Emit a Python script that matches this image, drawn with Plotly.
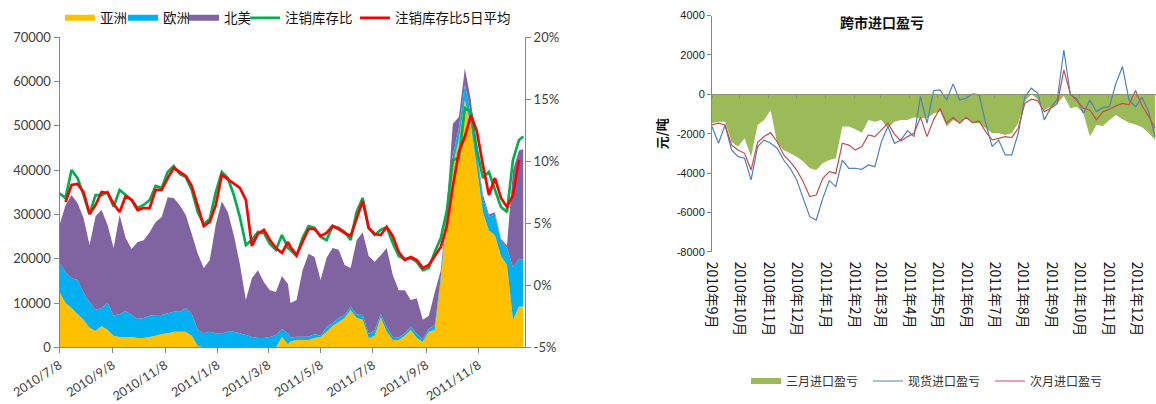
import pandas as pd
import plotly.graph_objects as go

# ---------------- Left chart data (注销库存) ----------------
seg_a = pd.date_range("2010-07-08", periods=39, freq="7D")
seg_b = pd.date_range("2011-04-03", periods=39, freq="7D")
stock_dates = [d.strftime("%Y-%m-%d") for d in list(seg_a) + list(seg_b)] + ["2011-12-30"]

asia = [12500, 10000, 8900, 7500, 6200, 4400, 3700, 4800, 3900, 2600,
        2300, 2300, 2300, 2100, 2100, 2300, 2600, 3000, 3200, 3500,
        3500, 3500, 2600, 300, 0, 0, 0, 0, 0, 0,
        0, 0, 0, 0, 0, 0, 0, 2300, 700, 1300,
        1650, 1650, 1650, 2100, 2300, 3500, 4800, 5700, 6600, 8400,
        6600, 6200, 2100, 2600, 6800, 3500, 1650, 1650, 2600, 3900,
        2100, 1200, 3500, 3900, 15200, 29900, 41100, 47000, 55800, 50000,
        40500, 30500, 26400, 25300, 20600, 18600, 6200, 9200, 9200]

europe = [6500, 7000, 6700, 7700, 6100, 5800, 4700, 4100, 6100, 4500,
          5200, 5900, 5000, 4300, 4500, 4800, 4700, 4300, 4500, 4500,
          4500, 5400, 4900, 3600, 3200, 3500, 3200, 3200, 3500, 3500,
          3200, 2800, 2300, 2100, 2100, 2300, 2800, 1800, 2500, 900,
          750, 750, 750, 900, 300, 1000, 700, 900, 700, 800,
          800, 1100, 900, 1200, 700, 1000, 650, 550, 600, 800,
          900, 600, 700, 1100, 800, 1100, 2400, 2500, 3500, 2800,
          2500, 3100, 3100, 4700, 3400, 3900, 11800, 10800, 10500]

north_america = [8600, 15100, 18800, 17400, 16900, 12900, 21200, 22100, 17600, 15300,
                 22400, 16500, 14900, 17400, 17600, 18900, 21000, 22100, 26200, 25700,
                 24100, 21000, 18100, 17200, 14700, 16200, 24600, 29800, 27000, 21800,
                 15600, 7900, 13300, 15300, 12600, 10600, 9700, 12000, 11100, 7800,
                 8300, 15000, 18700, 17400, 12600, 15700, 16900, 15400, 11300, 8700,
                 16800, 18700, 17600, 15500, 13300, 17900, 14000, 10700, 9700, 6000,
                 8100, 4400, 2900, 7500, 1400, 1000, 7000, 2500, 3700, 3000,
                 1000, 900, 500, 500, 500, 500, 22000, 24500, 25000]

cancel_ratio = [7.42, 7.04, 9.30, 8.65, 7.28, 5.75, 7.28, 7.28, 7.52, 6.34,
                7.69, 7.28, 6.88, 6.23, 6.48, 6.88, 8.01, 7.85, 9.14, 9.62,
                8.98, 8.73, 7.69, 5.91, 4.94, 5.35, 7.52, 9.14, 8.65, 7.28,
                5.51, 3.25, 3.65, 4.30, 4.22, 3.33, 2.85, 4.06, 3.01, 2.85,
                2.36, 3.81, 4.78, 4.62, 3.90, 3.65, 4.78, 4.62, 4.30, 3.65,
                5.91, 7.04, 4.62, 4.06, 4.46, 4.70, 3.41, 2.36, 2.12, 2.20,
                1.88, 1.23, 1.40, 2.69, 3.81, 6.00, 10.11, 10.27, 14.30, 13.98,
                10.91, 8.65, 9.14, 7.69, 6.32, 5.91, 10.11, 11.72, 12.00]

cancel_ratio_ma5 = [None, 6.72, 8.09, 8.17, 7.52, 5.75, 6.48, 7.52, 7.44, 6.56,
                    5.91, 7.20, 6.88, 6.07, 6.23, 6.23, 7.69, 7.69, 8.65, 9.46,
                    9.14, 8.82, 8.01, 6.48, 4.78, 5.11, 6.48, 8.90, 8.57, 8.25,
                    7.85, 6.88, 3.17, 4.14, 4.46, 3.65, 3.01, 2.61, 3.49, 3.09,
                    2.44, 3.49, 4.54, 4.54, 3.98, 4.22, 4.78, 4.54, 4.22, 3.98,
                    5.43, 6.80, 4.62, 4.14, 4.06, 4.70, 3.98, 2.69, 2.04, 2.28,
                    2.04, 1.40, 1.64, 2.36, 3.09, 4.78, 8.00, 10.75, 12.00, 13.73,
                    12.40, 9.70, 7.28, 8.65, 7.04, 6.32, 7.28, 10.11, None]

left_x_ticks = ["2010-07-08", "2010-09-08", "2010-11-08", "2011-01-08", "2011-03-08",
                "2011-05-08", "2011-07-08", "2011-09-08", "2011-11-08"]
left_x_labels = ["2010/7/8", "2010/9/8", "2010/11/8", "2011/1/8", "2011/3/8",
                 "2011/5/8", "2011/7/8", "2011/9/8", "2011/11/8"]
left_y_ticks = [0, 10000, 20000, 30000, 40000, 50000, 60000, 70000]
right_pct_ticks = [-5, 0, 5, 10, 15, 20]
right_pct_labels = ["-5%", "0%", "5%", "10%", "15%", "20%"]

# ---------------- Right chart data (跨市进口盈亏) ----------------
pl_dates = [d.strftime("%Y-%m-%d") for d in pd.date_range("2010-09-01", periods=69, freq="7D")]

three_month = [-1470, -1390, -1390, -2410, -2660, -2240, -3170, -1560, -1300, -800,
               -2490, -2830, -3000, -3170, -3420, -3760, -3850, -3510, -3340, -3250,
               -1640, -1640, -1780, -1950, -1300, -1390, -1300, -1730, -1390, -1300,
               -1300, -1170, -1220, -1220, -970, -880, -1640, -1300, -1470, -1220,
               -1470, -1470, -1730, -1980, -1980, -2070, -1980, -1470, -370, 0,
               -250, -800, -630, -460, -90, -710, -630, -970, -2150, -1560,
               -1610, -1300, -1050, -1270, -1440, -1530, -1680, -1950, -2320]

spot = [-1640, -2490, -1560, -2830, -3170, -3250, -4350, -2660, -2320, -2490,
        -2740, -3340, -3760, -4350, -5290, -6220, -6390, -5290, -4390, -4690,
        -3340, -3760, -3760, -3810, -3590, -3680, -2410, -1640, -2490, -2320,
        -1850, -2150, -100, -1470, 190, 220, -290, 530, -290, -200,
        20, -30, -1470, -2660, -2320, -3080, -3080, -1980, -150, 310,
        50, -1300, -680, -250, 2250, -30, -220, -970, -290, -880,
        -680, -630, 560, 1410, -290, -630, -150, -880, -2150]

next_month = [-1560, -1470, -1560, -2580, -2830, -3000, -3850, -2440, -2150, -1950,
              -2410, -3080, -3420, -3850, -4440, -5200, -5120, -4270, -3930, -4020,
              -2490, -2580, -2830, -2660, -2070, -2150, -1810, -1470, -2020, -2370,
              -2150, -1980, -1170, -2150, -1300, -710, -1470, -1170, -1470, -1170,
              -1440, -1360, -1900, -2320, -2240, -2150, -2200, -1730, -460, -250,
              -320, -880, -710, -470, 1240, 20, -320, -710, -800, -1300,
              -880, -760, -590, -460, -540, 190, -580, -1100, -1730]

pl_month_ticks = ["2010-09-01", "2010-10-01", "2010-11-01", "2010-12-01", "2011-01-01",
                  "2011-02-01", "2011-03-01", "2011-04-01", "2011-05-01", "2011-06-01",
                  "2011-07-01", "2011-08-01", "2011-09-01", "2011-10-01", "2011-11-01",
                  "2011-12-01"]
pl_month_labels = ["2010年9月", "2010年10月", "2010年11月", "2010年12月", "2011年1月",
                   "2011年2月", "2011年3月", "2011年4月", "2011年5月", "2011年6月",
                   "2011年7月", "2011年8月", "2011年9月", "2011年10月", "2011年11月",
                   "2011年12月"]
pl_y_ticks = [4000, 2000, 0, -2000, -4000, -6000, -8000]
pl_y_labels = ["4000", "2000", "0", "-2000", "-4000", "-6000", "-8000"]

W, H = 1156, 404
LF = "Lato, 'Noto Sans CJK SC', sans-serif"
RF = "'Liberation Sans', 'Noto Sans CJK SC', sans-serif"
CJK = "'Noto Sans CJK SC', sans-serif"


def px_x(p):
    return p / W


def px_y(p):
    return 1 - p / H


fig = go.Figure()

# left stacked areas (each legend entry gets its own legend box for exact placement)
for name, vals, col, lg in [("亚洲", asia, "#FFC000", "legend"),
                            ("欧洲", europe, "#00B0F0", "legend3"),
                            ("北美", north_america, "#8064A2", "legend4")]:
    fig.add_trace(go.Scatter(x=stock_dates, y=vals, name=name, mode="none",
                             stackgroup="stock", fillcolor=col,
                             xaxis="x", yaxis="y", legend=lg))
fig.add_trace(go.Scatter(x=stock_dates, y=cancel_ratio, name="注销库存比", mode="lines",
                         line=dict(color="#00B050", width=2.7),
                         xaxis="x", yaxis="y2", legend="legend5"))
fig.add_trace(go.Scatter(x=stock_dates, y=cancel_ratio_ma5, name="注销库存比5日平均",
                         mode="lines", line=dict(color="#FF0000", width=2.7),
                         xaxis="x", yaxis="y2", legend="legend6"))

# right chart
fig.add_trace(go.Scatter(x=pl_dates, y=three_month, name="三月进口盈亏", mode="none",
                         fill="tozeroy", fillcolor="#9BBB59",
                         xaxis="x2", yaxis="y3", legend="legend2"))
fig.add_trace(go.Scatter(x=pl_dates, y=spot, name="现货进口盈亏", mode="lines",
                         line=dict(color="#4F81BD", width=1.2),
                         xaxis="x3", yaxis="y3", legend="legend7"))
fig.add_trace(go.Scatter(x=pl_dates, y=next_month, name="次月进口盈亏", mode="lines",
                         line=dict(color="#C0504D", width=1.2),
                         xaxis="x3", yaxis="y3", legend="legend8"))


def leg(xpx, ypx, size, color):
    return dict(orientation="h", x=px_x(xpx), y=px_y(ypx), xanchor="left",
                yanchor="middle", bgcolor="rgba(0,0,0,0)", traceorder="normal",
                font=dict(family=CJK, size=size, color=color), itemwidth=30)


axis_gray = "#868686"
fig.update_layout(
    width=W, height=H, template="none",
    margin=dict(l=0, r=0, t=0, b=0),
    paper_bgcolor="white", plot_bgcolor="rgba(0,0,0,0)",
    font=dict(family=LF, size=12, color="#404040"),
    showlegend=True,
    xaxis=dict(domain=[px_x(59.5), px_x(525)], anchor="y", type="date",
               range=["2010-07-08", "2012-01-01"], tickmode="array",
               tickvals=left_x_ticks, ticktext=left_x_labels, tickangle=-33,
               showline=True, linecolor=axis_gray, linewidth=1, ticks="outside",
               ticklen=5, tickcolor=axis_gray, showgrid=False, zeroline=False,
               tickfont=dict(family=LF, size=12.5, color="#404040")),
    yaxis=dict(domain=[px_y(347.3), px_y(37.3)], anchor="x", range=[0, 70000],
               tickmode="array", tickvals=left_y_ticks,
               ticktext=[str(v) for v in left_y_ticks],
               showline=True, linecolor=axis_gray, ticks="outside", ticklen=5,
               tickcolor=axis_gray, showgrid=False, zeroline=False,
               tickfont=dict(family=LF, size=13, color="#404040")),
    yaxis2=dict(overlaying="y", anchor="x", side="right", range=[-5, 20],
                tickmode="array", tickvals=right_pct_ticks, ticktext=right_pct_labels,
                showline=True, linecolor=axis_gray, ticks="outside", ticklen=5,
                tickcolor=axis_gray, showgrid=False, zeroline=False,
                tickfont=dict(family=LF, size=13, color="#404040")),
    xaxis2=dict(domain=[px_x(712), 1.0], anchor="y3", type="date",
                range=["2010-09-01", "2011-12-22"], tickmode="array",
                tickvals=pl_month_ticks, ticktext=pl_month_labels, tickangle=90,
                showline=False, ticks="", showgrid=False, zeroline=False,
                ticklabelstandoff=9,
                tickfont=dict(family=CJK, size=14, color="#111111")),
    xaxis3=dict(overlaying="x2", anchor="free", position=px_y(94.3), type="date",
                range=["2010-09-01", "2011-12-22"], tickmode="array",
                tickvals=pl_month_ticks, showticklabels=False,
                showline=True, linecolor="#8a9474", linewidth=1, ticks="outside",
                ticklen=3, tickcolor="#8a9474", showgrid=False, zeroline=False,
                layer="above traces"),
    yaxis3=dict(domain=[px_y(251.7), px_y(15.6)], anchor="x2", range=[-8000, 4000],
                tickmode="array", tickvals=pl_y_ticks, ticktext=pl_y_labels,
                showline=True, linecolor=axis_gray, ticks="outside", ticklen=4,
                tickcolor=axis_gray, showgrid=False, zeroline=False,
                tickfont=dict(family=RF, size=11, color="#222222"),
                title=dict(text="<b>元/吨</b>", standoff=6,
                           font=dict(family=CJK, size=13, color="#111111"))),
    legend=leg(60, 18, 13.5, "#111111"),
    legend3=leg(123, 18, 13.5, "#111111"),
    legend4=leg(184, 18, 13.5, "#111111"),
    legend5=leg(245, 18, 13.5, "#111111"),
    legend6=leg(355, 18, 13.5, "#111111"),
    legend2=leg(746, 381, 12, "#333333"),
    legend7=leg(868, 381, 12, "#333333"),
    legend8=leg(990, 381, 12, "#333333"),
    annotations=[dict(text="<b>跨市进口盈亏</b>", x=px_x(882), y=px_y(22),
                      xref="paper", yref="paper", xanchor="center", yanchor="middle",
                      showarrow=False,
                      font=dict(family=CJK, size=14, color="#111111"))],
)

fig.write_html("out.html")
